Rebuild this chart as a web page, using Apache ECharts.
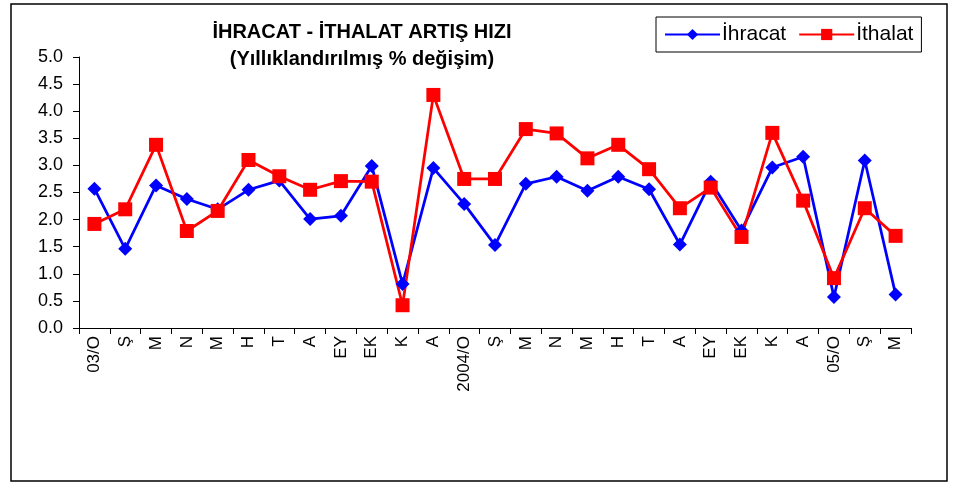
<!DOCTYPE html>
<html>
<head>
<meta charset="utf-8">
<script src="https://cdn.jsdelivr.net/npm/echarts@6/dist/echarts.min.js"></script>
<style>
html,body{margin:0;padding:0;background:#fff;}
#chart{width:954px;height:485px;}
</style>
</head>
<body>
<div id="chart"></div>
<script>
var categories = ['03/O','Ş','M','N','M','H','T','A','EY','EK','K','A','2004/O','Ş','M','N','M','H','T','A','EY','EK','K','A','05/O','Ş','M'];
var ihracat = [2.57,1.46,2.63,2.38,2.19,2.55,2.72,2.01,2.07,2.99,0.81,2.95,2.29,1.53,2.66,2.79,2.53,2.79,2.56,1.54,2.70,1.80,2.96,3.16,0.57,3.09,0.62];
var ithalat = [1.92,2.19,3.38,1.79,2.16,3.10,2.80,2.55,2.71,2.70,0.42,4.30,2.75,2.75,3.67,3.59,3.13,3.38,2.93,2.21,2.59,1.68,3.60,2.35,0.92,2.21,1.70];
var yTicks = {min:0, max:5, interval:0.5};

var chart = echarts.init(document.getElementById('chart'));
var font = '"Liberation Sans", Arial, sans-serif';
chart.setOption({
  animation:false,
  backgroundColor:'#fff',
  textStyle:{fontFamily:font},
  title:{
    text:'İHRACAT - İTHALAT ARTIŞ HIZI\n(Yıllıklandırılmış % değişim)',
    left:357, top:14, textAlign:'center',
    textStyle:{fontFamily:font, fontWeight:'bold', fontSize:20, lineHeight:27, color:'#000'}
  },
  legend:{
    left:656, top:17,
    padding:[7,8,7,8],
    borderColor:'#000', borderWidth:1, borderRadius:0,
    itemWidth:55, itemHeight:14, itemGap:12,
    textStyle:{fontFamily:font, fontSize:21, color:'#000', padding:[0,0,0,-3]},
    data:['İhracat','İthalat']
  },
  grid:{left:79, top:57, right:43, bottom:157, containLabel:false},
  xAxis:{
    type:'category', data:categories, boundaryGap:true,
    axisLine:{lineStyle:{color:'#000', width:1}},
    axisTick:{show:true, length:6, inside:false, lineStyle:{color:'#000'}},
    axisLabel:{rotate:90, interval:0, fontFamily:font, fontSize:17, color:'#000', margin:8},
    splitLine:{show:false}
  },
  yAxis:{
    type:'value', min:yTicks.min, max:yTicks.max, interval:yTicks.interval,
    axisLine:{show:true, lineStyle:{color:'#000', width:1}},
    axisTick:{show:true, length:6, lineStyle:{color:'#000'}},
    axisLabel:{fontFamily:font, fontSize:18, color:'#000', margin:16, formatter:function(v){return v.toFixed(1);}},
    splitLine:{show:false}
  },
  graphic:[{
    type:'rect', shape:{x:11,y:4,width:936,height:477},
    style:{fill:'none', stroke:'#000', lineWidth:1.5}, z:-1
  }],
  series:[
    {
      name:'İhracat', type:'line', data:ihracat,
      symbol:'diamond', symbolSize:14,
      lineStyle:{color:'#0000FF', width:2.75},
      itemStyle:{color:'#0000FF'}
    },
    {
      name:'İthalat', type:'line', data:ithalat,
      symbol:'rect', symbolSize:14,
      lineStyle:{color:'#FF0000', width:2.75},
      itemStyle:{color:'#FF0000'}
    }
  ]
});
</script>
</body>
</html>
